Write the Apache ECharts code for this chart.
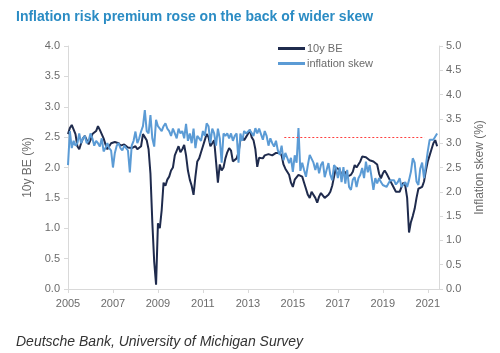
<!DOCTYPE html>
<html>
<head>
<meta charset="utf-8">
<script src="https://cdn.jsdelivr.net/npm/echarts@6/dist/echarts.min.js"></script>
<style>
html,body{margin:0;padding:0;background:#fff;}
#chart{width:500px;height:353px;}
</style>
</head>
<body>
<div id="chart"></div>
<script>
// Monthly data, first point = Jan 2005
const startYear = 2005;
const xTickYears = [2005, 2007, 2009, 2011, 2013, 2015, 2017, 2019, 2021];
const seriesNames = ['10y BE', 'inflation skew'];
const be10y = [
  2.55, 2.65, 2.70, 2.68, 2.55, 2.35, 2.30, 2.40, 2.48, 2.52, 2.45, 2.38, // 2005
  2.45, 2.55, 2.52, 2.60, 2.68, 2.62, 2.55, 2.48, 2.38, 2.30, 2.35, 2.40, // 2006
  2.38, 2.42, 2.45, 2.40, 2.36, 2.34, 2.38, 2.36, 2.33, 2.35, 2.32, 2.35, // 2007
  2.35, 2.30, 2.28, 2.35, 2.55, 2.50, 2.45, 2.30, 1.90, 1.10, 0.45, 0.07, // 2008
  1.08, 1.00, 1.30, 1.75, 1.70, 1.80, 1.85, 1.95, 2.00, 2.20, 2.20, 2.35, // 2009
  2.25, 2.30, 2.37, 2.20, 1.95, 1.80, 1.70, 1.55, 1.85, 2.10, 2.15, 2.25, // 2010
  2.35, 2.45, 2.55, 2.50, 2.35, 2.40, 2.45, 2.10, 1.75, 2.05, 1.95, 2.00, // 2011
  2.15, 2.25, 2.32, 2.28, 2.10, 2.10, 2.15, 2.25, 2.45, 2.50, 2.45, 2.50, // 2012
  2.55, 2.62, 2.50, 2.45, 2.30, 2.01, 2.16, 2.18, 2.15, 2.20, 2.18, 2.22, // 2013
  2.22, 2.20, 2.18, 2.24, 2.22, 2.24, 2.20, 2.05, 1.98, 1.93, 1.88, 1.75, // 2014
  1.68, 1.80, 1.82, 1.88, 1.90, 1.85, 1.75, 1.65, 1.55, 1.50, 1.60, 1.58, // 2015
  1.50, 1.42, 1.52, 1.58, 1.60, 1.50, 1.48, 1.55, 1.60, 1.70, 1.85, 2.00, // 2016
  2.02, 1.96, 1.88, 1.90, 1.93, 1.85, 1.82, 1.88, 1.93, 2.04, 2.00, 2.05, // 2017
  2.10, 2.18, 2.15, 2.17, 2.15, 2.12, 2.13, 2.10, 2.12, 2.05, 1.90, 1.82, // 2018
  1.90, 1.95, 1.90, 1.90, 1.78, 1.72, 1.75, 1.60, 1.58, 1.60, 1.68, 1.75, // 2019
  1.70, 1.50, 0.93, 1.10, 1.20, 1.32, 1.50, 1.65, 1.63, 1.68, 1.77, 1.95, // 2020
  2.10, 2.20, 2.30, 2.40, 2.45, 2.35                                      // 2021
];
const inflationSkew = [
  2.55, 3.25, 2.90, 3.05, 2.95, 3.00, 3.20, 3.00, 3.10, 3.15, 3.00, 3.05, // 2005
  3.20, 3.10, 2.95, 3.05, 3.00, 2.93, 3.10, 2.83, 2.90, 3.00, 2.90, 2.85, // 2006
  2.50, 2.80, 2.95, 3.00, 2.90, 2.85, 2.95, 2.92, 2.85, 2.40, 2.95, 3.05, // 2007
  3.24, 3.00, 3.10, 3.24, 3.35, 3.68, 3.25, 3.20, 3.58, 3.10, 2.93, 3.48, // 2008
  3.35, 3.30, 3.25, 3.35, 3.41, 3.30, 3.25, 3.15, 3.30, 3.20, 3.10, 3.30, // 2009
  3.20, 3.25, 3.10, 3.40, 3.05, 3.20, 3.00, 3.30, 2.90, 3.15, 3.10, 3.05, // 2010
  3.25, 3.15, 3.41, 3.35, 3.00, 3.30, 3.20, 2.95, 3.30, 3.10, 2.60, 3.20, // 2011
  3.15, 3.20, 3.10, 3.20, 3.05, 3.15, 3.20, 2.60, 3.20, 3.05, 3.25, 3.20, // 2012
  3.24, 3.27, 3.30, 3.15, 3.31, 3.20, 3.30, 3.27, 3.07, 3.25, 3.15, 2.95, // 2013
  3.10, 3.00, 2.93, 3.05, 2.85, 2.76, 2.95, 2.65, 2.80, 2.70, 2.59, 2.70, // 2014
  2.41, 2.75, 2.60, 3.31, 2.43, 2.60, 2.45, 2.31, 2.55, 2.76, 2.80, 2.60, // 2015
  2.45, 2.60, 2.38, 2.55, 2.62, 2.30, 2.45, 2.59, 2.35, 2.24, 2.55, 2.50, // 2016
  2.28, 2.50, 2.20, 2.51, 2.17, 2.45, 2.10, 2.04, 2.25, 2.30, 2.10, 2.28, // 2017
  2.35, 2.49, 2.28, 2.62, 2.40, 2.55, 2.30, 2.04, 2.28, 2.17, 2.28, 2.20, // 2018
  2.14, 2.17, 2.10, 2.17, 2.24, 2.20, 2.24, 2.15, 2.20, 2.28, 2.10, 2.15, // 2019
  2.20, 2.10, 2.24, 2.41, 2.69, 2.60, 2.21, 2.14, 2.48, 2.60, 2.28, 2.55, // 2020
  2.83, 3.07, 3.10, 3.07, 3.10, 3.20                                      // 2021
];
// reference line (10y BE level) and its span in years
const refLevel = 2.5;
const refSpan = [2014.62, 2020.85];

const toPairs = arr => arr.map((v, i) => [startYear + i / 12, v]);

const chart = echarts.init(document.getElementById('chart'), null, {renderer: 'canvas'});
const gray = '#6b6b6b';
const axisLineColor = '#d9d9d9';
const font = 'Liberation Sans, Arial, sans-serif';

chart.setOption({
  animation: false,
  backgroundColor: '#fff',
  textStyle: {fontFamily: font},
  title: [{
    text: 'Inflation risk premium rose on the back of wider skew',
    left: 11, top: 5,
    textStyle: {color: '#2b8cc4', fontSize: 14, fontWeight: 'bold', fontFamily: font}
  }, {
    text: 'Deutsche Bank, University of Michigan Survey',
    left: 11, top: 330,
    textStyle: {color: '#333', fontSize: 14, fontWeight: 'normal', fontStyle: 'italic', fontFamily: font}
  }],
  legend: {
    orient: 'vertical',
    left: 273, top: 38,
    itemWidth: 27, itemHeight: 3, itemGap: 4,
    icon: 'rect',
    textStyle: {color: gray, fontSize: 11, fontFamily: font, padding: [0, 0, 0, -3]},
    data: seriesNames
  },
  grid: {left: 68, right: 61, top: 46, bottom: 64, containLabel: false},
  xAxis: {
    type: 'value',
    min: 2005, max: 2021.5, interval: 2,
    axisLine: {lineStyle: {color: axisLineColor}},
    axisTick: {show: true, length: 4, lineStyle: {color: axisLineColor}},
    splitLine: {show: false},
    axisLabel: {
      color: gray, fontSize: 11, margin: 9, showMaxLabel: false,
      formatter: v => (xTickYears.indexOf(v) >= 0 ? String(v) : '')
    }
  },
  yAxis: [{
    type: 'value', min: 0, max: 4, interval: 0.5,
    name: '10y BE (%)', nameLocation: 'middle', nameGap: 30,
    nameTextStyle: {color: gray, fontSize: 12},
    axisLine: {show: true, lineStyle: {color: axisLineColor}},
    axisTick: {show: true, length: 4, lineStyle: {color: axisLineColor}},
    splitLine: {show: false},
    axisLabel: {color: gray, fontSize: 11, margin: 8, formatter: v => v.toFixed(1)}
  }, {
    type: 'value', min: 0, max: 5, interval: 0.5, position: 'right',
    name: 'Inflation skew (%)', nameLocation: 'middle', nameGap: 35, nameRotate: 90,
    nameTextStyle: {color: gray, fontSize: 12},
    axisLine: {show: true, lineStyle: {color: axisLineColor}},
    axisTick: {show: true, length: 4, lineStyle: {color: axisLineColor}},
    splitLine: {show: false},
    axisLabel: {color: gray, fontSize: 11, margin: 7, formatter: v => v.toFixed(1)}
  }],
  series: [{
    name: seriesNames[0],
    type: 'line',
    yAxisIndex: 0,
    data: toPairs(be10y),
    showSymbol: false, symbol: 'none',
    lineStyle: {color: '#1f2b4d', width: 2},
    itemStyle: {color: '#1f2b4d'},
    markLine: {
      silent: true, symbol: 'none',
      label: {show: false},
      emphasis: {disabled: true},
      lineStyle: {color: '#ff4040', type: [2, 2], width: 1, opacity: 1},
      data: [[{coord: [refSpan[0], refLevel]}, {coord: [refSpan[1], refLevel]}]]
    }
  }, {
    name: seriesNames[1],
    type: 'line',
    yAxisIndex: 1,
    data: toPairs(inflationSkew),
    showSymbol: false, symbol: 'none',
    lineStyle: {color: '#5b9bd5', width: 2},
    itemStyle: {color: '#5b9bd5'}
  }]
});
</script>
</body>
</html>
